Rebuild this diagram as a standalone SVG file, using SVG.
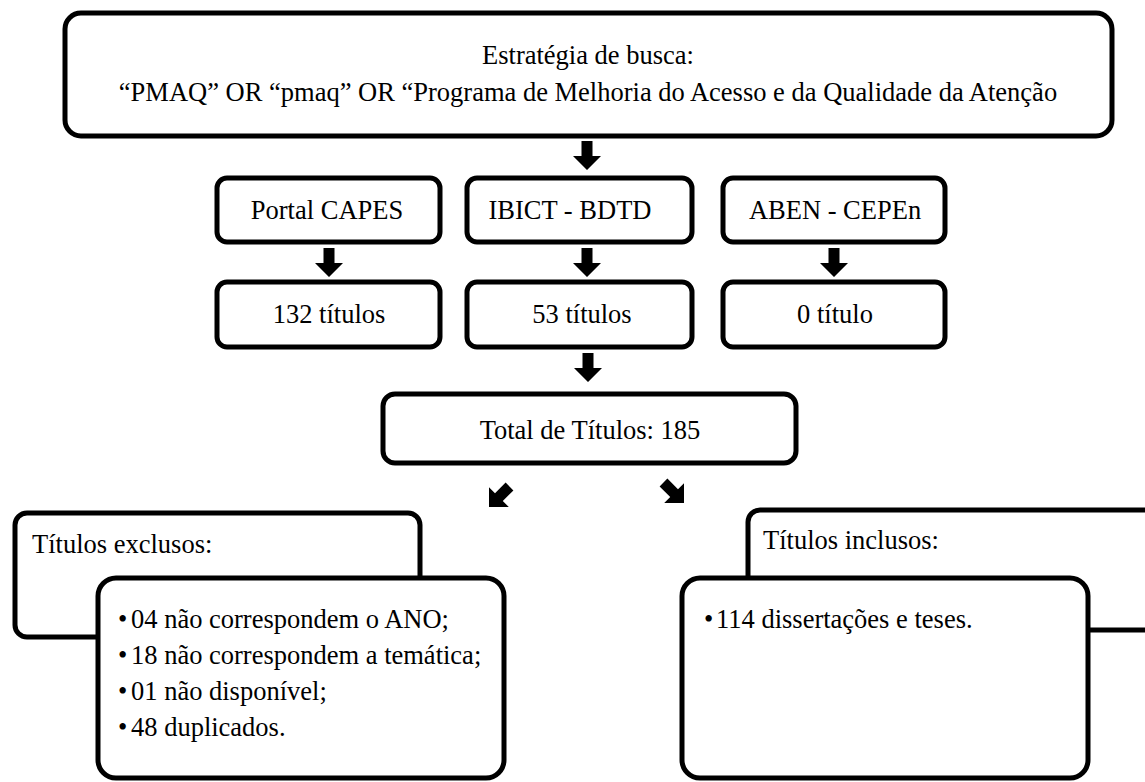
<svg xmlns="http://www.w3.org/2000/svg" xmlns:xlink="http://www.w3.org/1999/xlink" width="1145" height="782" viewBox="0 0 1145 782">
<style>
.box{fill:#fff;stroke:#000;stroke-width:5}
.t{font-family:"Liberation Serif","Times New Roman",serif;font-size:26.5px;fill:#000}
.m{text-anchor:middle}
.arr{fill:#000}
</style>
<defs>
<path id="arrow" d="M-5.5,-29 H5.5 V-14 H14 L0,0 L-14,-14 H-5.5 Z"/>
</defs>
<rect width="1145" height="782" fill="#fff"/>
<g id="connectors" class="arr">
<use xlink:href="#arrow" transform="translate(587,170)"/>
<use xlink:href="#arrow" transform="translate(329,277)"/>
<use xlink:href="#arrow" transform="translate(587,277)"/>
<use xlink:href="#arrow" transform="translate(834,277)"/>
<use xlink:href="#arrow" transform="translate(588,382)"/>
<use xlink:href="#arrow" transform="translate(489,507) rotate(45)"/>
<use xlink:href="#arrow" transform="translate(684,503) rotate(-45)"/>
</g>
<g id="busca">
<rect class="box" x="65" y="13" width="1047" height="123" rx="16"/>
<text class="t m" x="588" y="64">Estratégia de busca:</text>
<text class="t m" x="588" y="101">“PMAQ” OR “pmaq” OR “Programa de Melhoria do Acesso e da Qualidade da Atenção</text>
</g>
<g id="capes">
<rect class="box" x="217" y="178" width="223" height="64" rx="10"/>
<text class="t m" x="327" y="219">Portal CAPES</text>
</g>
<g id="ibict">
<rect class="box" x="467" y="178" width="225" height="64" rx="10"/>
<text class="t m" x="570" y="219">IBICT - BDTD</text>
</g>
<g id="aben">
<rect class="box" x="723" y="178" width="222" height="64" rx="10"/>
<text class="t m" x="835" y="219">ABEN - CEPEn</text>
</g>
<g id="capes-titulos">
<rect class="box" x="217" y="282" width="223" height="65" rx="10"/>
<text class="t m" x="329" y="323">132 títulos</text>
</g>
<g id="ibict-titulos">
<rect class="box" x="467" y="282" width="225" height="65" rx="10"/>
<text class="t m" x="582" y="323">53 títulos</text>
</g>
<g id="aben-titulos">
<rect class="box" x="723" y="282" width="222" height="65" rx="10"/>
<text class="t m" x="835" y="323">0 título</text>
</g>
<g id="total">
<rect class="box" x="383" y="394" width="413" height="69" rx="12"/>
<text class="t m" x="590" y="439">Total de Títulos: 185</text>
</g>
<g id="exclusos">
<rect class="box" x="15" y="513" width="405" height="124" rx="12"/>
<text class="t" x="32" y="553">Títulos exclusos:</text>
</g>
<g id="exclusos-lista">
<rect class="box" x="98" y="578" width="406" height="200" rx="18"/>
<text class="t"><tspan x="118" y="628">•</tspan><tspan x="131" y="628">04 não correspondem o ANO;</tspan></text>
<text class="t"><tspan x="118" y="664">•</tspan><tspan x="131" y="664">18 não correspondem a temática;</tspan></text>
<text class="t"><tspan x="118" y="700">•</tspan><tspan x="131" y="700">01 não disponível;</tspan></text>
<text class="t"><tspan x="118" y="736">•</tspan><tspan x="131" y="736">48 duplicados.</tspan></text>
</g>
<g id="inclusos">
<rect class="box" x="748" y="510" width="420" height="120" rx="12"/>
<text class="t" x="763" y="549">Títulos inclusos:</text>
</g>
<g id="inclusos-lista">
<rect class="box" x="682" y="578" width="406" height="200" rx="18"/>
<text class="t"><tspan x="704" y="628">•</tspan><tspan x="716" y="628">114 dissertações e teses.</tspan></text>
</g>
</svg>
